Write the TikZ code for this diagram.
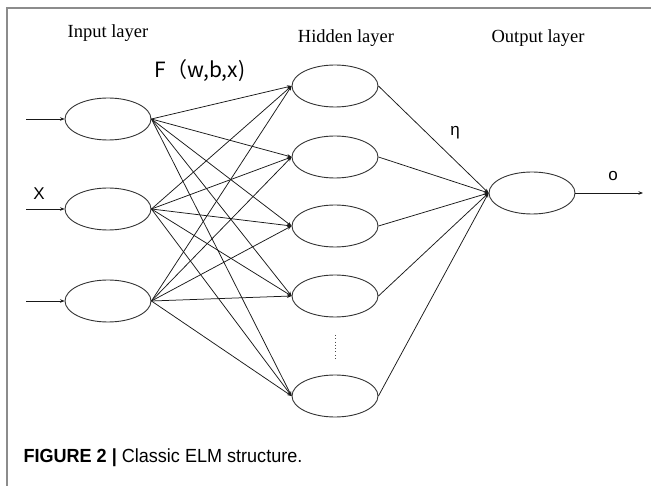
\documentclass[tikz,border=0pt]{standalone}
\usepackage{fontspec}
\setmainfont{Liberation Serif}
\newfontfamily\sansf{Liberation Sans}
\newfontfamily\cjkf{Noto Sans CJK SC}
\newfontfamily\capf[FakeStretch=0.95]{Liberation Sans}
\usetikzlibrary{shapes.geometric,arrows.meta}
\begin{document}
\begin{tikzpicture}[x=1pt,y=-1pt,
  neuron/.style={ellipse,draw=black!80,line width=0.9pt,minimum width=86pt,minimum height=42pt,inner sep=0pt},
  conn/.style={draw=black!90,line width=0.75pt,-{Stealth[length=4.5pt,width=3.5pt]}},
  layertitle/.style={font=\fontsize{18.5}{21}\selectfont},
  lbl/.style={font=\sansf\fontsize{17}{20}\selectfont}]
\useasboundingbox (0,0) rectangle (651,486);
\draw[gray!90,line width=1.5pt] (651,8) -- (7,8) -- (7,486);
% titles
\node[layertitle] (tin) at (108,33) {Input layer};
\node[layertitle] (thid) at (346,38) {Hidden layer};
\node[layertitle] (tout) at (538,38) {Output layer};
% neurons
\node[neuron] (i1) at (108,119) {};
\node[neuron] (i2) at (108,209) {};
\node[neuron] (i3) at (108,301) {};
\node[neuron] (h1) at (335,86) {};
\node[neuron] (h2) at (335,157) {};
\node[neuron] (h3) at (335,226) {};
\node[neuron] (h4) at (335,296) {};
\node[neuron] (h5) at (335,396) {};
\node[neuron] (o) at (532,193) {};
% input arrows
\coordinate (s1) at (26,119);
\coordinate (s2) at (26,209);
\coordinate (s3) at (26,301);
\coordinate (e) at (643,193);
\foreach \k in {1,2,3} \draw[conn] (s\k) -- (i\k.west);
% input to hidden
\foreach \a in {1,2,3} \foreach \b in {1,...,5} \draw[conn] (i\a.east) -- (h\b.west);
% hidden to output
\foreach \b in {1,...,5} \draw[conn] (h\b.east) -- (o.west);
\draw[conn] (o.east) -- (e);
% dots
\coordinate (d1) at (335,335);
\coordinate (d2) at (335,359);
\draw[black!70,line width=0.9pt,dash pattern=on 0.9pt off 2.4pt] (d1) -- (d2);
% labels
\node[font=\cjkf\fontsize{21}{24}\selectfont] (F) at (200,71) {F（w,b,x)};
\node[lbl] (X) at (39,194) {X};
\node[lbl] (eta) at (455,133) {η};
\node[lbl] (ol) at (613,176) {o};
% caption
\node[anchor=west,font=\capf\fontsize{19}{22}\selectfont] (cap) at (20,458) {\textbf{FIGURE 2 |} Classic ELM structure.};
\end{tikzpicture}
\end{document}
